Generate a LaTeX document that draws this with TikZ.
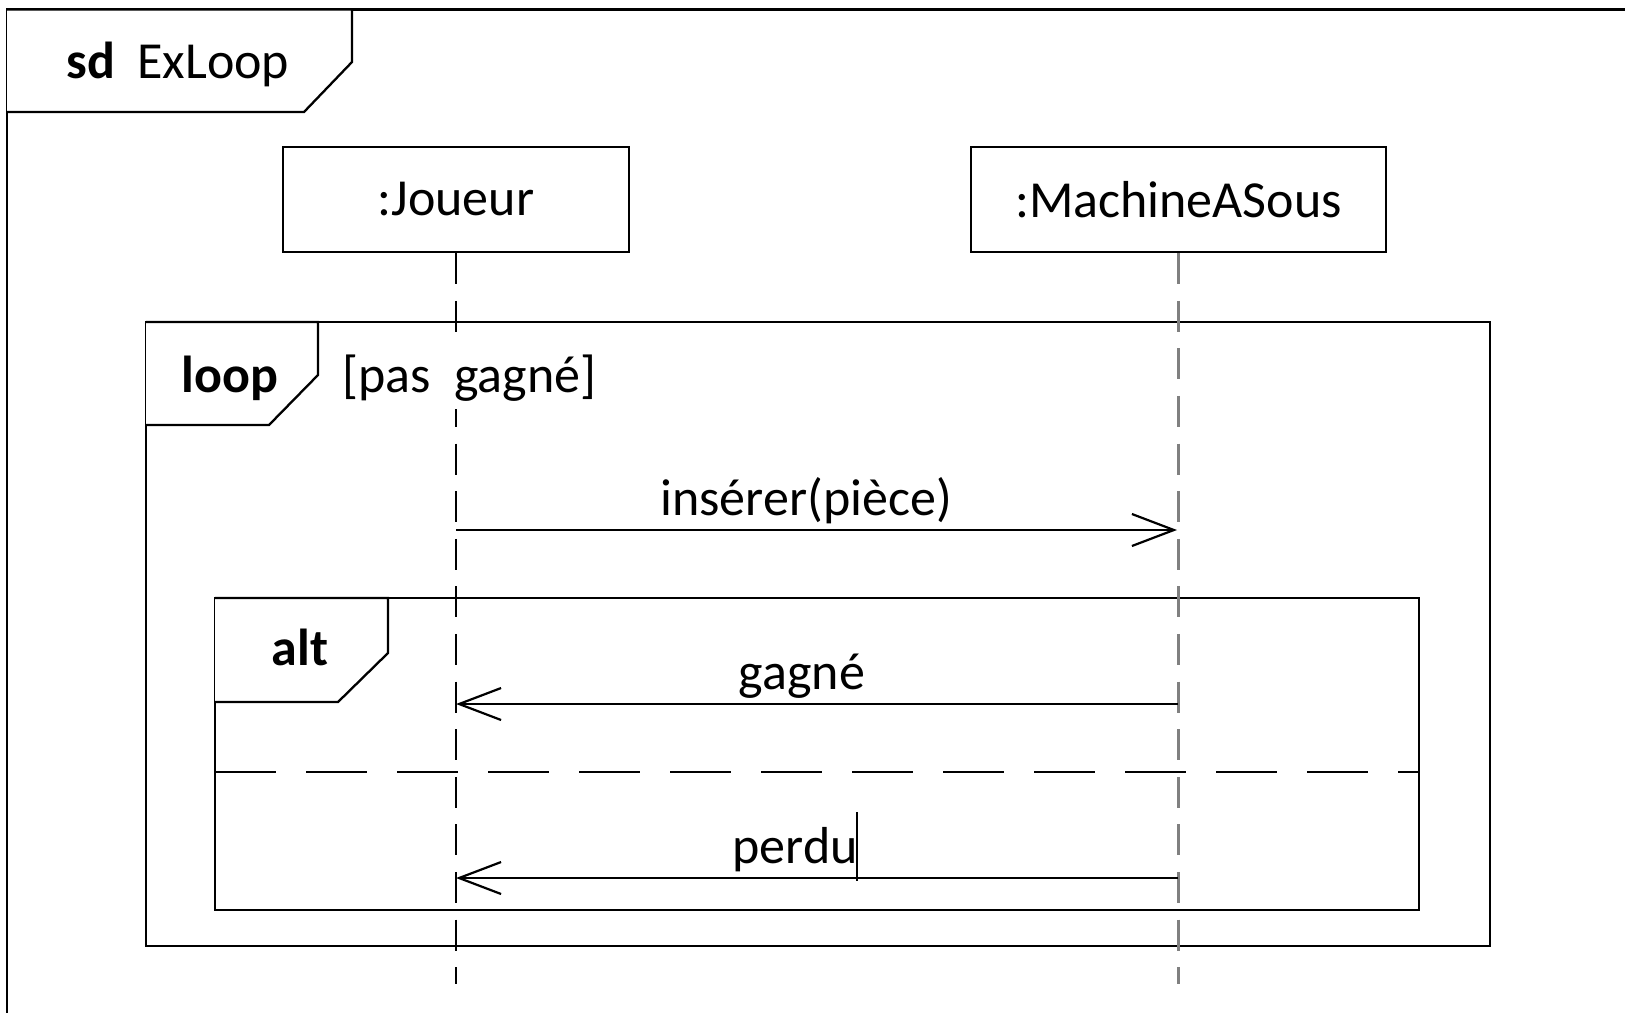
\documentclass[tikz,border=0pt]{standalone}
\usepackage{fontspec}
\setmainfont{Carlito}
\usetikzlibrary{arrows.meta}
\begin{document}
\begin{tikzpicture}[x=0.5pt,y=-0.5pt,
  every node/.style={font=\fontsize{26}{30}\selectfont, inner sep=2pt},
  framestyle/.style={line width=1.15pt, draw=black},
  tabstyle/.style={line width=1.15pt, draw=black, fill=white},
  lifebox/.style={draw, line width=1.15pt, minimum height=52.5pt, inner sep=0pt},
  lifeline/.style={line width=1.2pt, dash pattern=on 15.5pt off 8.3pt},
  operand/.style={line width=1.15pt, dash pattern=on 30.5pt off 15pt},
  msg/.style={line width=1pt, -{Straight Barb[length=21pt,width=16pt,line width=1.1pt]}},
  textlbl/.style={anchor=base}
]
\useasboundingbox (0,0) rectangle (1625,1012);
\fill[white] (0,0) rectangle (1625,1012);

% outer sd frame, running off the page on the right and at the bottom
\begin{scope}
  \clip (0,0) rectangle (1625,1012);
  \draw[framestyle] (7,1100) -- (7,9.5) -- (1700,9.5);
\end{scope}
\draw[tabstyle] (7,9.5) -- (352,9.5) -- (352,62) -- (304,112) -- (7,112);
\node[textlbl] (sdlbl) at (178,78) {\textbf{sd}\hspace{0.42em}ExLoop};

% combined fragments
\draw[framestyle] (146,322) rectangle (1490,946);
\draw[tabstyle] (146,322) -- (318,322) -- (318,375) -- (269,425) -- (146,425);
\node[textlbl] (looplbl) at (230,392) {\textbf{loop}};

\draw[framestyle] (215,598) rectangle (1419,910);
\draw[tabstyle] (215,598) -- (388,598) -- (388,653) -- (338,702) -- (215,702);
\node[textlbl] (altlbl) at (300,665) {\textbf{alt}};
\coordinate (sepL) at (215,772);
\coordinate (sepR) at (1419,772);
\draw[operand] (sepL) -- (sepR);

% lifelines
\node[lifebox, minimum width=173pt] (j) at (456,199.5) {:Joueur};
\node[lifebox, minimum width=207.5pt] (m) at (1178.5,199.5) {:MachineASous};
\coordinate (jEnd) at (456,984);
\coordinate (mEnd) at (1178.5,984);
\draw[lifeline] (j.south) -- (jEnd);
\draw[lifeline, draw=black!50] (m.south) -- (mEnd);

% guard, masking the lifeline behind it
\node[anchor=base west, fill=white, inner xsep=1pt, inner ysep=4pt] (guard) at (340,392) {[pas\hspace{0.45em}gagné]};

% messages
\coordinate (j1) at (456,530);
\coordinate (m1) at (1177,530);
\coordinate (j2) at (456,704);
\coordinate (m2) at (1178,704);
\coordinate (j3) at (456,878);
\coordinate (m3) at (1178,878);
\draw[msg] (j1) -- (m1);
\node[textlbl] (l1) at (806,515) {insérer(pièce)};
\draw[msg] (m2) -- (j2);
\node[textlbl] (l2) at (802,689) {gagné};
\draw[msg] (m3) -- (j3);
\node[textlbl] (l3) at (795,863) {perdu};

% text cursor after the last label
\coordinate (curTop) at (857,812);
\coordinate (curBot) at (857,881);
\draw[line width=0.9pt] (curTop) -- (curBot);
\end{tikzpicture}
\end{document}
